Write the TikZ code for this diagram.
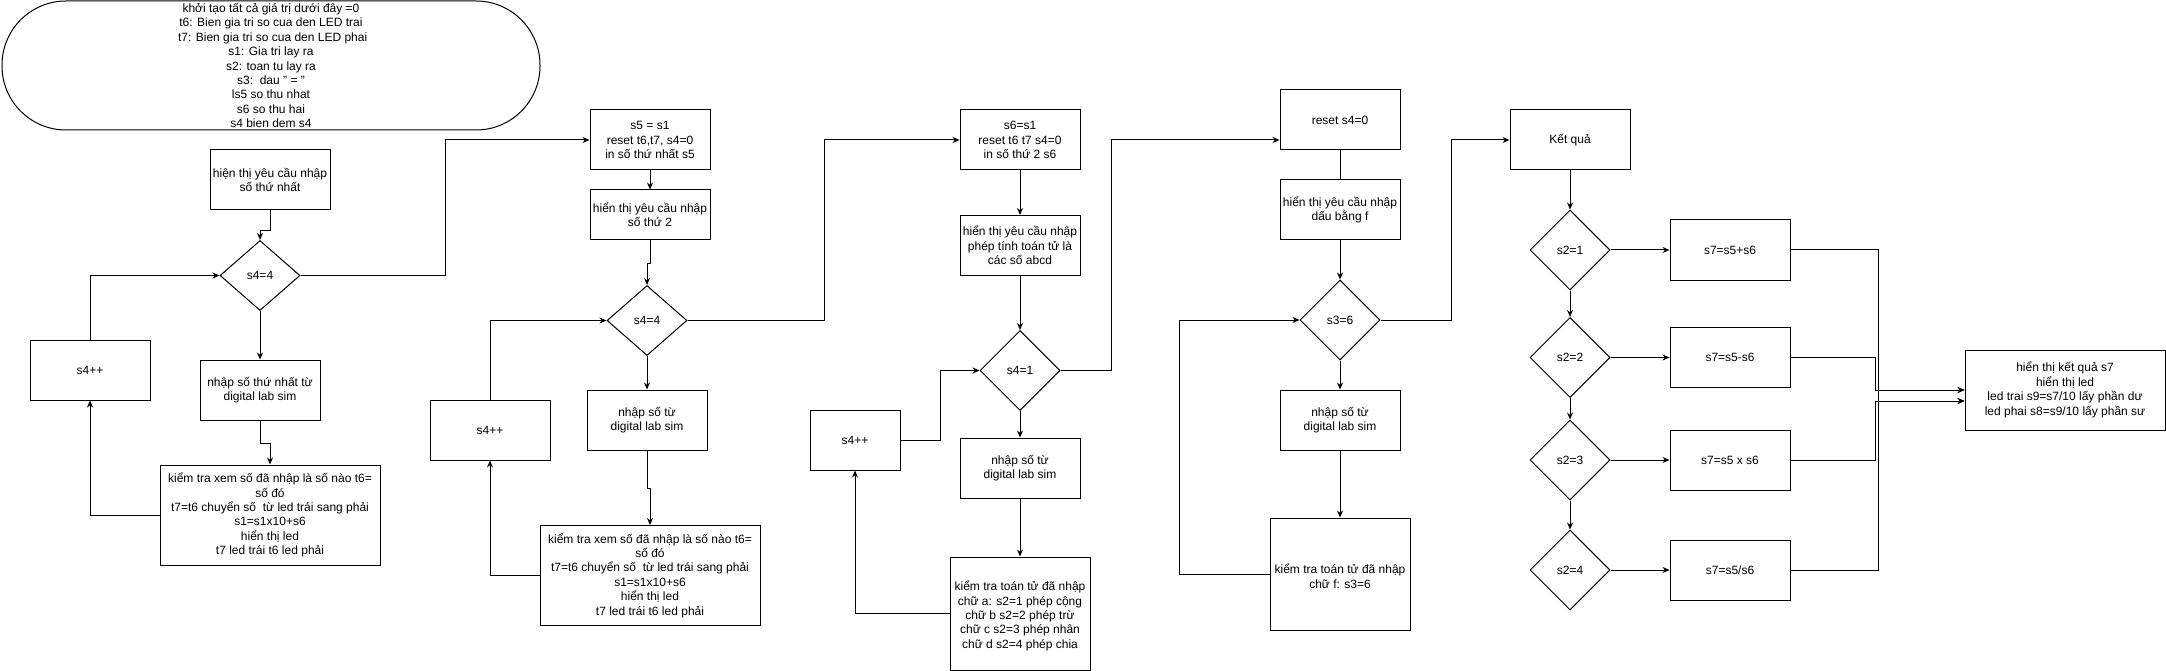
\documentclass[tikz,border=0pt]{standalone}
\usepackage{fontspec}
\setmainfont{Liberation Sans}
\usetikzlibrary{shapes.geometric,arrows.meta}

\begin{document}
\begin{tikzpicture}[x=1pt,y=-1pt,line width=1pt,>={Stealth[length=7pt,width=6pt]},
  every node/.style={font=\fontsize{12}{14.4}\selectfont,align=center,inner sep=0pt},
  box/.style={draw,rectangle,minimum width=120pt,minimum height=60pt},
  cond/.style={draw,diamond,minimum width=80pt,minimum height=80pt}]
\def\twospace{\ \ }

\useasboundingbox (0,0) rectangle (2166,671);

\node[draw,rounded corners=64pt,minimum width=538pt,minimum height=129pt] (init) at (271,65.5)
  {khởi tạo tất cả giá trị dưới đây =0\\t6: Bien gia tri so cua den LED trai\\
   \ t7: Bien gia tri so cua den LED phai\\s1: Gia tri lay ra\\s2: toan tu lay ra\\
   s3:\twospace dau " = "\\ls5 so thu nhat\\s6 so thu hai\\s4 bien dem s4};

\node[box] (ask1) at (270,180) {hiện thị yêu cầu nhập\\số thứ nhất};
\node[cond,minimum height=70pt] (test1) at (260,275.5) {s4=4};
\node[box] (read1) at (260,390) {nhập số thứ nhất từ\\digital lab sim};
\node[box,minimum width=220pt,minimum height=100pt] (check1) at (270,515)
  {kiểm tra xem số đã nhập là số nào t6=\\số đó\\t7=t6 chuyển số\twospace từ led trái sang phải\\
   s1=s1x10+s6\\hiển thị led\\ t7 led trái t6 led phải};
\node[box] (inc1) at (90,370) {s4++};

\node[box] (save5) at (650,140) {s5 = s1\\reset t6,t7, s4=0\\in số thứ nhất s5};
\node[box,minimum height=50pt] (ask2) at (650,215) {hiển thị yêu cầu nhập\\số thứ 2};
\node[cond,minimum height=70pt] (test2) at (647,320.5) {s4=4};
\node[box] (read2) at (647,420) {nhập số từ\\digital lab sim};
\node[box,minimum width=220pt,minimum height=100pt] (check2) at (650,575.5)
  {kiểm tra xem số đã nhập là số nào t6=\\số đó\\t7=t6 chuyển số\twospace từ led trái sang phải\\
   s1=s1x10+s6\\hiển thị led\\ t7 led trái t6 led phải};
\node[box] (inc2) at (490,430) {s4++};

\node[box] (save6) at (1020,140) {s6=s1\\reset t6 t7 s4=0\\in số thứ 2 s6};
\node[box] (ask3) at (1020,245.5) {hiển thị yêu cầu nhập\\phép tính toán tử là\\các số abcd};
\node[cond] (test3) at (1020,370.5) {s4=1};
\node[box] (read3) at (1020,468) {nhập số từ\\digital lab sim};
\node[box,minimum width=140pt,minimum height=113pt] (check3) at (1020,613.5)
  {\mbox{}\\kiểm tra toán tử đã nhập\\chữ a: s2=1 phép cộng\\chữ b s2=2 phép trừ\\
   chữ c s2=3 phép nhân\\chữ d s2=4 phép chia};
\node[box,minimum width=90pt] (inc3) at (855,440) {s4++};

\node[box] (reset4) at (1340,120) {reset s4=0};
\node[box] (ask4) at (1340,210) {hiển thị yêu cầu nhập\\dấu bằng f};
\node[cond] (test4) at (1340,320) {s3=6};
\node[box] (read4) at (1340,420) {nhập số từ\\digital lab sim};
\node[box,minimum width=140pt,minimum height=112pt] (check4) at (1340,574)
  {\mbox{}\\kiểm tra toán tử đã nhập\\chữ f: s3=6};

\node[box] (result) at (1570,140) {Kết quả};
\node[cond] (op1) at (1570,250) {s2=1};
\node[cond] (op2) at (1570,357.5) {s2=2};
\node[cond] (op3) at (1570,460) {s2=3};
\node[cond] (op4) at (1570,570) {s2=4};
\node[box] (calc1) at (1730,250) {s7=s5+s6};
\node[box] (calc2) at (1730,357.5) {s7=s5-s6};
\node[box] (calc3) at (1730,460) {s7=s5 x s6};
\node[box] (calc4) at (1730,570) {s7=s5/s6};
\node[box,minimum width=200pt,minimum height=80pt] (show) at (2065,390)
  {hiển thị kết quả s7\\hiển thị led\\led trai s9=s7/10 lấy phần dư\\led phai s8=s9/10 lấy phần sư};

\draw[->] (ask1.south) -- ++(0,20) -| (test1.north);
\draw[->] (test1.south) -- (read1.north);
\draw[->] (read1.south) -- ++(0,23) -| (check1.north);
\draw[->] (check1.west) -| (inc1.south);
\draw[->] (inc1.north) |- (test1.west);
\draw[->] (test1.east) -- ++(145,0) |- (save5.west);

\draw[->] (save5.south) -- (ask2.north);
\draw[->] (ask2.south) -- ++(0,23) -| (test2.north);
\draw[->] (test2.south) -- (read2.north);
\draw[->] (read2.south) -- ++(0,38) -| (check2.north);
\draw[->] (check2.west) -| (inc2.south);
\draw[->] (inc2.north) |- (test2.west);
\draw[->] (test2.east) -- ++(137,0) |- (save6.west);

\draw[->] (save6.south) -- (ask3.north);
\draw[->] (ask3.south) -- (test3.north);
\draw[->] (test3.south) -- (read3.north);
\draw[->] (read3.south) -- (check3.north);
\draw[->] (check3.west) -| (inc3.south);
\draw[->] (inc3.east) -- ++(40,0) |- (test3.west);
\draw[->] (test3.east) -- ++(51,0) |- ([yshift=-20pt]reset4.west);

\draw (reset4.south) -- (ask4.north);
\draw[->] (ask4.south) -- (test4.north);
\draw[->] (test4.south) -- (read4.north);
\draw[->] (read4.south) -- (check4.north);
\draw[->] (check4.west) -- ++(-90,0) |- (test4.west);
\draw[->] (test4.east) -- ++(71,0) |- (result.west);

\draw[->] (result.south) -- (op1.north);
\draw[->] (op1.south) -- (op2.north);
\draw[->] (op2.south) -- (op3.north);
\draw[->] (op3.south) -- (op4.north);
\draw[->] (op1.east) -- (calc1.west);
\draw[->] (op2.east) -- (calc2.west);
\draw[->] (op3.east) -- (calc3.west);
\draw[->] (op4.east) -- (calc4.west);
\draw[->] (calc1.east) -- ++(88,0) |- ([yshift=-11pt]show.west);
\draw[->] (calc2.east) -- ++(85,0) |- (show.west);
\draw[->] (calc3.east) -- ++(85,0) |- ([yshift=-11pt]show.west);
\draw[->] (calc4.east) -- ++(88,0) |- (show.west);

\end{tikzpicture}
\end{document}
